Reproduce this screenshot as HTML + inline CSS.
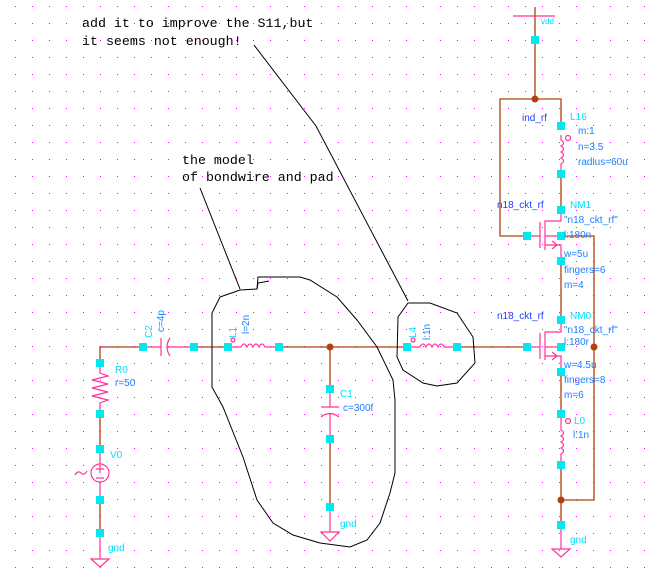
<!DOCTYPE html>
<html><head><meta charset="utf-8"><style>
html,body{margin:0;padding:0;background:#fff;width:646px;height:583px;overflow:hidden}
svg text{font-family:"Liberation Sans",sans-serif;font-size:10px}
.c{fill:#00e0ff}.b{fill:#1f3fff}.bl{fill:#1a7fff}
.n{font-family:"Liberation Mono",monospace!important;font-size:13.3px!important;fill:#000}
</style></head><body>
<svg width="646" height="583" viewBox="0 0 646 583" xmlns="http://www.w3.org/2000/svg">
<defs>
<pattern id="g" x="15" y="6" width="17" height="17" patternUnits="userSpaceOnUse"><rect width="1" height="1" fill="#ff00ff"/></pattern>
</defs>
<rect width="646" height="583" fill="url(#g)"/>
<g stroke="#b04010" stroke-width="1.3" fill="none">
<path d="M535 7V99 M527 236H500V99H561V126 M561 174V210 M561 236H594V500H561 M561 261V320 M561 372V414 M561 465V525"/>
<path d="M100 414V449 M100 500V533 M100 363V347H143 M194 347H228 M279 347H407 M457 347H527 M330 347V389 M330 439V507"/>
</g>
<g stroke="#ff3399" stroke-width="1.2" fill="none">
<path d="M513 16H555"/>
<path d="M561 135V140 q5 3 0 6 q5 3 0 6 q5 3 0 6 q5 3 0 6V174"/>
<circle cx="568" cy="138" r="2.5"/>
<path d="M561 210V221H545V250 M540 222V248 M527 236H540 M545 236H561 M545 245H561V261 M552 241l5 4l-5 4"/>
<path d="M561 320V332H545V360 M540 333V359 M527 347H540 M545 347H561 M545 356H561V372 M552 352l5 4l-5 4"/>
<path d="M561 414V430 q5 3 0 6 q5 3 0 6 q5 3 0 6 q5 3 0 6V465"/>
<circle cx="568" cy="421" r="2.5"/>
<path d="M561 525V549 M552 549H570L561 557Z"/>
<path d="M143 347H161 M161 338V356 M170 338q-6 9 0 18 M167 347H194"/>
<path d="M228 347H241 M241 347q3-6 6 0q3-6 6 0q3-6 6 0q3-6 6 0H279"/>
<circle cx="233" cy="340" r="2"/>
<path d="M407 347H420 M420 347q3-6 6 0q3-6 6 0q3-6 6 0q3-6 6 0H457"/>
<circle cx="413" cy="340" r="2"/>
<path d="M330 389V407 M321 407H339 M321 417q9-7 18 0 M330 413V439 M330 507V532 M321 532H339L330 541Z"/>
<path d="M100 363V373l8 3l-16 4l16 4l-16 4l16 4l-16 4l16 4l-8 3V414"/>
<path d="M100 449V464 M100 482V500"/>
<circle cx="100" cy="473" r="9"/>
<path d="M96 469h8 M100 465v8 M96 478h8"/>
<path d="M100 533V559 M91 559H109L100 567Z"/>
<path d="M75 475q3-5 6-2t6-2"/>
</g>
<g fill="#00e8f0">
<rect x="531" y="36" width="8" height="8"/><rect x="557" y="122" width="8" height="8"/><rect x="557" y="170" width="8" height="8"/>
<rect x="557" y="206" width="8" height="8"/><rect x="523" y="232" width="8" height="8"/><rect x="557" y="232" width="8" height="8"/><rect x="557" y="257" width="8" height="8"/>
<rect x="557" y="316" width="8" height="8"/><rect x="523" y="343" width="8" height="8"/><rect x="557" y="343" width="8" height="8"/><rect x="557" y="368" width="8" height="8"/>
<rect x="557" y="410" width="8" height="8"/><rect x="557" y="461" width="8" height="8"/><rect x="557" y="521" width="8" height="8"/>
<rect x="139" y="343" width="8" height="8"/><rect x="190" y="343" width="8" height="8"/><rect x="224" y="343" width="8" height="8"/><rect x="275" y="343" width="8" height="8"/>
<rect x="403" y="343" width="8" height="8"/><rect x="453" y="343" width="8" height="8"/>
<rect x="326" y="385" width="8" height="8"/><rect x="326" y="435" width="8" height="8"/><rect x="326" y="503" width="8" height="8"/>
<rect x="96" y="359" width="8" height="8"/><rect x="96" y="410" width="8" height="8"/><rect x="96" y="445" width="8" height="8"/><rect x="96" y="496" width="8" height="8"/><rect x="96" y="529" width="8" height="8"/>
</g>
<g fill="#b04010"><circle cx="535" cy="99" r="3.5"/><circle cx="594" cy="347" r="3.5"/><circle cx="561" cy="500" r="3.5"/><circle cx="330" cy="347" r="3.5"/></g>
<text x="541" y="24" class="c" style="font-size:8px">vdd</text>
<text x="522" y="121" class="b">ind_rf</text>
<text x="570" y="120" class="c">L16</text>
<text x="578" y="134" class="bl">m:1</text>
<text x="578" y="150" class="bl">n=3.5</text>
<text x="578" y="165" class="bl">radius=60u</text>
<text x="497" y="208" class="b">n18_ckt_rf</text>
<text x="570" y="208" class="c">NM1</text>
<text x="564" y="223" class="bl">"n18_ckt_rf"</text>
<text x="564" y="238" class="bl">l:180n</text>
<text x="564" y="257" class="bl">w=5u</text>
<text x="564" y="273" class="bl">fingers=6</text>
<text x="564" y="288" class="bl">m=4</text>
<text x="497" y="319" class="b">n18_ckt_rf</text>
<text x="570" y="319" class="c">NM0</text>
<text x="564" y="333" class="bl">"n18_ckt_rf"</text>
<text x="564" y="345" class="bl">l:180r</text>
<text x="564" y="368" class="bl">w=4.5u</text>
<text x="564" y="383" class="bl">fingers=8</text>
<text x="564" y="398" class="bl">m=6</text>
<text x="574" y="424" class="c">L0</text>
<text x="573" y="438" class="bl">l:1n</text>
<text x="570" y="543" class="c">gnd</text>
<text x="340" y="397" class="c">C1</text>
<text x="343" y="411" class="bl">c=300f</text>
<text x="340" y="527" class="c">gnd</text>
<text x="115" y="373" class="c">R0</text>
<text x="115" y="386" class="bl">r=50</text>
<text x="110" y="458" class="c">V0</text>
<text x="108" y="551" class="c">gnd</text>
<text transform="translate(152,338) rotate(-90)" class="c">C2</text>
<text transform="translate(164,332) rotate(-90)" class="bl">c=4p</text>
<text transform="translate(236,338) rotate(-90)" class="c">L1</text>
<text transform="translate(249,334) rotate(-90)" class="bl">l=2n</text>
<text transform="translate(416,338) rotate(-90)" class="c">L4</text>
<text transform="translate(430,340) rotate(-90)" class="bl">l:1n</text>
<text x="82" y="27" class="n">add it to improve the S11,but</text>
<text x="82" y="45" class="n">it seems not enough!</text>
<text x="182" y="164" class="n">the model</text>
<text x="182" y="181" class="n">of bondwire and pad</text>
<g stroke="#000" stroke-width="1" fill="none">
<path d="M254 45L316 126L408 301"/>
<path d="M200 188L240 289"/>
<path d="M220 297L240 290L257 289L258 277L300 277L310 280L337 297L357 320L377 347L393 380L395 400L395 473L390 493L380 523L367 540L350 547L320 543L293 535L273 523L257 500L243 457L223 407L212 387L212 313L220 297Z"/>
<path d="M257 289L258 283L269 281"/>
<path d="M408 303L430 303L457 313L473 337L475 363L457 383L437 386L423 383L403 370L397 357L398 317Z"/>
</g>
</svg>
</body></html>
